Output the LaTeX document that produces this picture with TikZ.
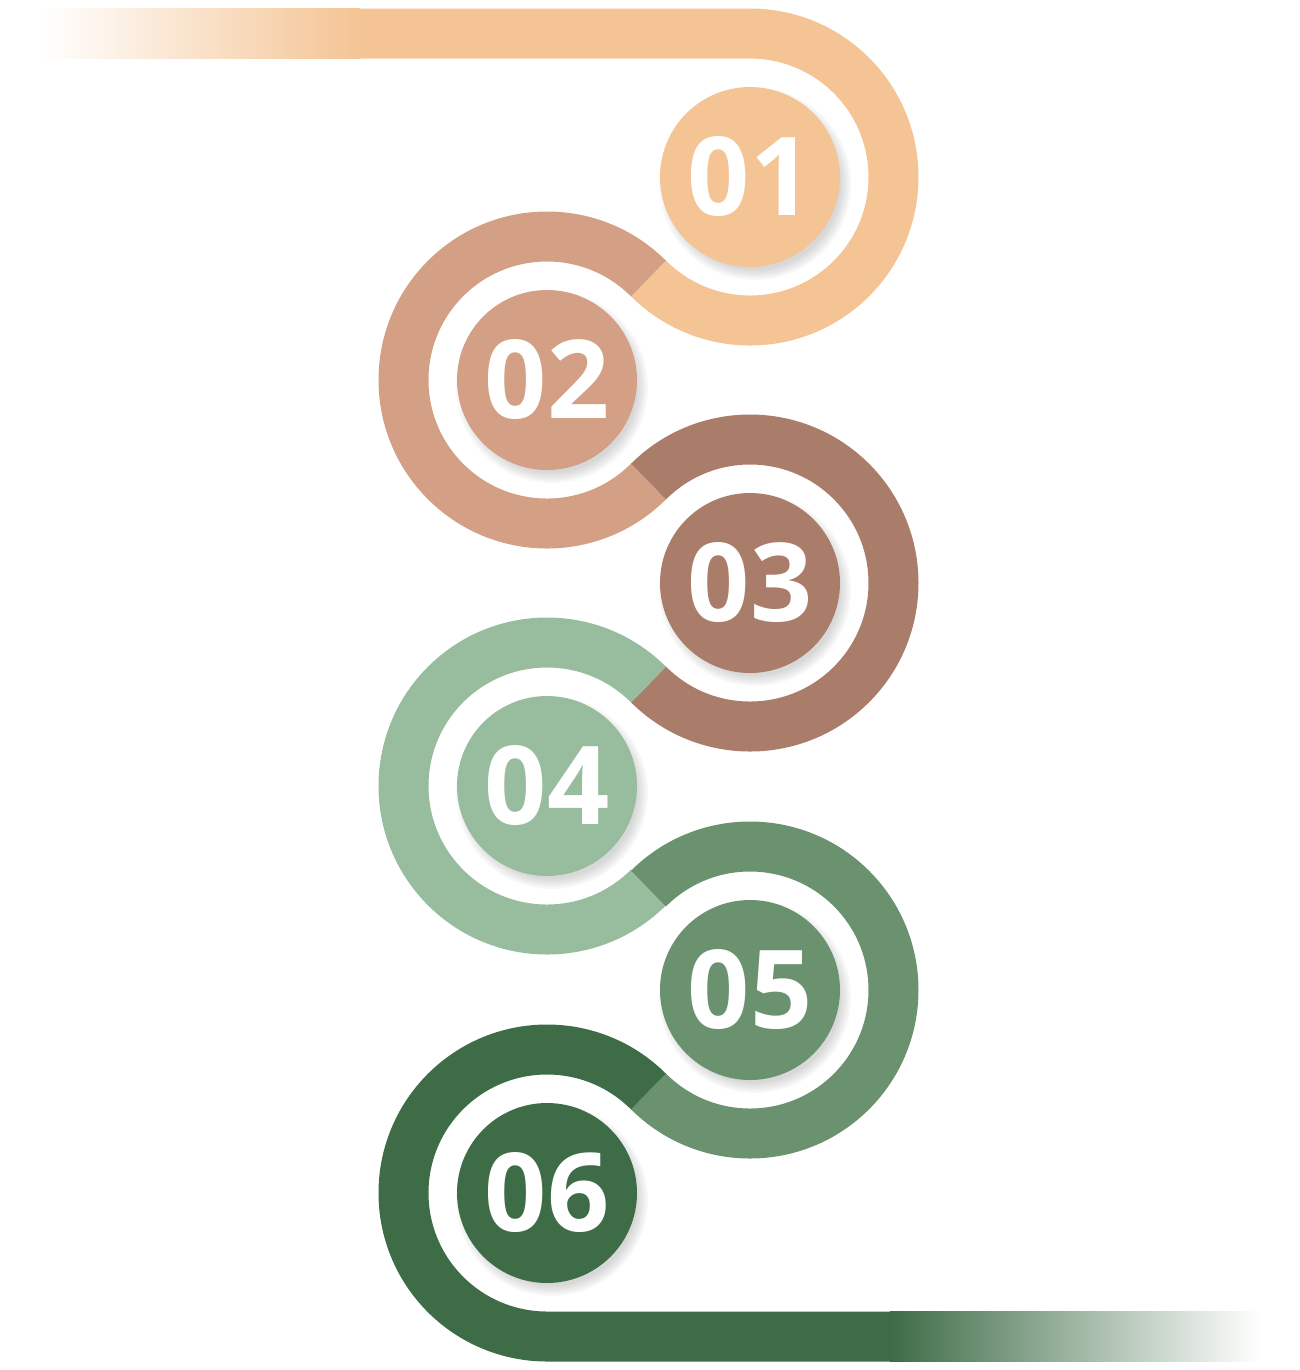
\documentclass[tikz,border=0pt]{standalone}
\usepackage{fontspec}
\newfontfamily\numfont{Open Sans}
\usetikzlibrary{calc}

\definecolor{stepA}{RGB}{244,196,148}
\definecolor{stepB}{RGB}{212,160,133}
\definecolor{stepC}{RGB}{170,125,106}
\definecolor{stepD}{RGB}{151,189,158}
\definecolor{stepE}{RGB}{106,146,110}
\definecolor{stepF}{RGB}{62,108,71}

\begin{document}
\begin{tikzpicture}[
  ring/.style={line width=5mm},
  numdisc/.style={circle, fill=#1, minimum size=18mm, inner sep=0pt, text=white,
                  font=\numfont\bfseries\fontsize{31}{31}\selectfont}]
\useasboundingbox (0,0) rectangle (13,-13.7);

% =============== CENTRES ===============
\coordinate (c1) at (7.50,-1.77);
\coordinate (c2) at (5.47,-3.80);
\coordinate (c3) at (7.50,-5.83);
\coordinate (c4) at (5.47,-7.86);
\coordinate (c5) at (7.50,-9.90);
\coordinate (c6) at (5.47,-11.93);

% =============== LEAD-IN ===============
\shade[left color=white, right color=stepA] (0.4,-0.085) rectangle (3.6,-0.585);
\coordinate (leadin) at (3.58,-0.335);
\draw[ring, stepA] (leadin) -- (c1 |- leadin)
  arc[start angle=90, end angle=-135, radius=14.35mm];

% =============== S-BENDS ===============
\foreach \k/\col/\sa/\ea in {2/stepB/45/315, 3/stepC/135/-135,
                             4/stepD/45/315, 5/stepE/135/-135}
  \draw[ring, \col] (c\k) ++(\sa:14.35mm)
    arc[start angle=\sa, end angle=\ea, radius=14.35mm];

% =============== LEAD-OUT ===============
\coordinate (leadout) at (8.92,-13.365);
\draw[ring, stepF] (c6) ++(45:14.35mm)
  arc[start angle=45, end angle=270, radius=14.35mm] -- (leadout);
\shade[left color=stepF, right color=white] (8.9,-13.115) rectangle (12.6,-13.615);

% =============== DISCS ===============
\foreach \k/\col in {1/stepA, 2/stepB, 3/stepC, 4/stepD, 5/stepE, 6/stepF} {
  \foreach \r in {0.96,0.94,...,0.84}
    \fill[black, opacity=0.028] ($(c\k)+(0.05,-0.07)$) circle (\r);
  \node[numdisc=\col] (n\k) at (c\k) {0\k};
}

\end{tikzpicture}
\end{document}
